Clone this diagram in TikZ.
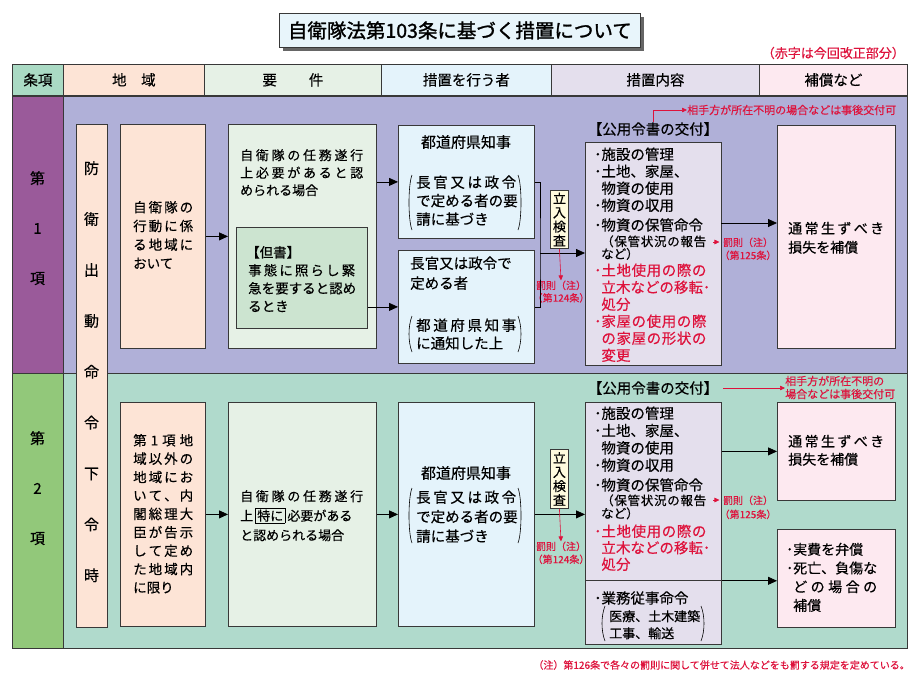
\documentclass[tikz,border=0pt]{standalone}
\usepackage{fontspec}
\setmainfont{Noto Sans CJK JP}[FakeBold=0.35]
\newfontfamily\ttlfont{Noto Sans CJK JP}[FakeBold=1.4]
\usetikzlibrary{arrows.meta}
\definecolor{jred}{RGB}{222,18,60}
\definecolor{hdA}{RGB}{170,218,196}
\definecolor{peach}{RGB}{253,228,214}
\definecolor{ygreen}{RGB}{230,241,230}
\definecolor{lblue}{RGB}{228,243,251}
\definecolor{lav}{RGB}{228,223,237}
\definecolor{pinkc}{RGB}{253,233,240}
\definecolor{sApurple}{RGB}{154,90,154}
\definecolor{sAband}{RGB}{176,176,216}
\definecolor{sBgreen}{RGB}{146,200,122}
\definecolor{sBband}{RGB}{176,218,204}
\definecolor{tgreen}{RGB}{204,228,208}
\definecolor{lyellow}{RGB}{255,251,222}
\definecolor{ttl}{RGB}{232,245,251}
\newcommand\fs[2]{\fontsize{#1}{#2}\selectfont}
\makeatletter
\def\spr@#1#2\spr@end{#1\ifx\relax#2\relax\else\hfill\spr@#2\spr@end\fi}
\newcommand\jl[2]{\makebox[#1pt][l]{\spr@#2\spr@end}}
\makeatother
\newcommand\bxn[7]{\node[box,fill=#6,minimum width={(#4)-(#2)},minimum height={(#5)-(#3)}] (#1) at (#2,#3) {#7};}
\newcommand\prn[4]{%
 \draw[paren] (#1+3,#3) .. controls (#1-1,#3+10) and (#1-1,#4-10) .. (#1+3,#4);
 \draw[paren] (#2-3,#3) .. controls (#2+1,#3+10) and (#2+1,#4-10) .. (#2-3,#4);}
\begin{document}
\begin{tikzpicture}[x=1pt,y=-1pt,
  box/.style={draw=black!78,line width=0.8pt,inner sep=0,anchor=north west},
  txt/.style={inner sep=0,align=left,anchor=north west},
  arr/.style={-{Triangle[length=9pt,width=8pt]},line width=0.8pt},
  rarr/.style={draw=jred,line width=0.6pt,-{Triangle[length=5pt,width=4.5pt]}},
  paren/.style={line width=0.6pt},
  rtxt/.style={txt,text=jred}]
\fill[white] (0,0) rectangle (918,680);
\useasboundingbox (0,0) rectangle (918,680);
% title
\fill[black!60] (283,17) rectangle (644,51);
\bxn{title}{279}{13}{640}{47}{ttl}{\ttlfont\fs{19.5}{20}自衛隊法第103条に基づく措置について}
\node[inner sep=0,anchor=east,text=jred,font={\fs{13}{14}}] (rnote) at (905,53) {（赤字は今回改正部分）};
% header
\bxn{hA}{12}{64}{63}{95}{hdA}{\fs{14.5}{16}条項}
\bxn{hB}{63}{64}{204}{95}{peach}{\fs{14.5}{16}地\hspace{1em}域}
\bxn{hC}{204}{64}{381}{95}{ygreen}{\fs{14.5}{16}要\hspace{2.2em}件}
\bxn{hD}{381}{64}{551}{95}{lblue}{\fs{14.5}{16}措置を行う者}
\bxn{hE}{551}{64}{759}{95}{lav}{\fs{14.5}{16}措置内容}
\bxn{hF}{759}{64}{907}{95}{pinkc}{\fs{14.5}{16}補償など}
% sections
\bxn{s1l}{12}{96}{63}{373}{sApurple}{}
\bxn{s1b}{63}{96}{907}{373}{sAband}{}
\bxn{s2l}{12}{373}{63}{648}{sBgreen}{}
\bxn{s2b}{63}{373}{907}{648}{sBband}{}
\node[inner sep=0,align=center,anchor=north,font={\fs{15}{50}}] (s1lt) at (37.5,171) {第\\1\\項};
\node[inner sep=0,align=center,anchor=north,font={\fs{15}{50}}] (s2lt) at (37.5,431) {第\\2\\項};
% boxes
\bxn{bouei}{76}{124}{107}{627}{peach}{}
\node[inner sep=0,align=center,anchor=north,font={\fs{15}{50.9}}] (boueit) at (91.5,161) {防\\衛\\出\\動\\命\\令\\下\\令\\時};
\bxn{chi1}{120}{124}{205}{348}{peach}{}
\bxn{yo1}{228}{124}{376}{348}{ygreen}{}
\bxn{tad1}{236}{227}{367}{328}{tgreen}{}
\bxn{sha1}{398}{125}{534}{238}{lblue}{}
\bxn{sha2}{398}{250}{534}{363}{lblue}{}
\bxn{nai1}{585}{142}{721}{365}{lav}{}
\bxn{hos1}{777}{125}{895}{348}{pinkc}{}
\bxn{chi2}{120}{402}{205}{626}{peach}{}
\bxn{yo2}{228}{402}{376}{626}{ygreen}{}
\bxn{sha3}{398}{402}{534}{626}{lblue}{}
\bxn{nai2}{585}{402}{721}{580}{lav}{}
\bxn{nai3}{585}{580}{721}{644}{lav}{}
\bxn{hos2}{777}{402}{895}{500}{pinkc}{}
\bxn{hos3}{777}{529}{895}{627}{pinkc}{}
% section 1 texts
\node[txt,font={\fs{13.5}{18.7}}] (chi1t) at (133,200.8) {\jl{60}{自衛隊の}\\\jl{60}{行動に係}\\\jl{60}{る地域に}\\おいて};
\node[txt,font={\fs{13}{17.5}}] (yo1t) at (240,149) {\jl{123}{自衛隊の任務遂行}\\\jl{123}{上必要があると認}\\められる場合};
\node[txt,font={\fs{13.5}{18}}] (tad1t) at (246,245.8) {【但書】\\\hspace*{2pt}\jl{107}{事態に照らし緊}\\\hspace*{2pt}\jl{107}{急を要すると認め}\\\hspace*{2pt}るとき};
\node[inner sep=0,font={\fs{15}{16}}] (sha1h) at (466,142) {都道府県知事};
\node[txt,font={\fs{14.5}{18.5}}] (sha1p) at (416,175.3) {\jl{100}{長官又は政令}\\\jl{100}{で定める者の要}\\請に基づき};
\prn{409}{521}{175}{230}
\node[txt,font={\fs{14.5}{20}}] (sha2t) at (410,256.3) {長官又は政令で\\定める者};
\node[txt,font={\fs{14.5}{18}}] (sha2p) at (416,318.3) {\jl{100}{都道府県知事}\\に通知した上};
\prn{409}{521}{316}{352}
\bxn{tac1}{550}{190}{568}{248}{lyellow}{}
\node[inner sep=0,align=center,font={\fs{13}{14}}] (tac1t) at (tac1.center) {立\\入\\検\\査};
\node[inner sep=0,align=center,anchor=north,text=jred,font={\fs{10}{12.5}}] (bat1) at (561,280.4) {罰則（注）\\（第124条）};
\node[inner sep=0,font={\fs{14.5}{16}}] (kou1) at (653,129) {【公用令書の交付】};
\node[inner sep=0,anchor=west,text=jred,font={\fs{11}{12}}] (note1) at (687,110) {相手方が所在不明の場合などは事後交付可};
\node[txt,font={\fs{14.5}{17}}] (nai1a) at (594,147.3) {･施設の管理\\･土地、家屋、\\\hspace*{7.25pt}物資の使用\\･物資の収用};
\node[inner sep=0,anchor=west,font={\fs{14.5}{17}}] (nai1b) at (594,225) {･物資の保管命令};
\node[txt,font={\fs{12.5}{12.5}}] (nai1c) at (601,235.2) {\jl{105}{（保管状況の報告}\\など）};
\node[rtxt,font={\fs{14.5}{17}}] (nai1d) at (594,263.3) {･\jl{105}{土地使用の際の}\\\hspace*{7.25pt}立木などの移転･\\\hspace*{7.25pt}処分\\･\jl{105}{家屋の使用の際}\\\hspace*{7.25pt}\jl{105}{の家屋の形状の}\\\hspace*{7.25pt}変更};
\node[inner sep=0,align=center,anchor=north,text=jred,font={\fs{10}{13}}] (bat2) at (748,237.4) {罰則（注）\\（第125条）};
\node[txt,font={\fs{14}{19}}] (hos1t) at (788,221.6) {\jl{96}{通常生ずべき}\\損失を補償};
% section 1 connectors
\draw[arr] (chi1.east) -- (yo1.west);
\draw[arr] (yo1.east |- sha1.west) -- (sha1.west);
\draw[arr] (tad1.east |- sha2.west) -- (sha2.west);
\coordinate (j1) at (540,253);
\draw[line width=0.8pt] (sha1.east) -| (j1) |- (sha2.east);
\draw[arr] (j1) -- (j1 -| nai1.west);
\draw[rarr] (tac1.south) -- (bat1.north);
\draw[rarr] (kou1.north) |- (note1.west);
\coordinate (p1) at (713,242);
\draw[rarr] (p1) -- (p1 -| bat2.west);
\coordinate (r1) at (721,223);
\draw[arr] (r1) -- (r1 -| hos1.west);
% section 2 texts
\node[txt,font={\fs{13.5}{18.4}}] (chi2t) at (133,433.8) {\jl{60}{第1項地}\\\jl{60}{域以外の}\\\jl{60}{地域にお}\\\jl{60}{いて、内}\\\jl{60}{閣総理大}\\\jl{60}{臣が告示}\\\jl{60}{して定め}\\\jl{60}{た地域内}\\に限り};
{\setlength\fboxsep{1.5pt}\setlength\fboxrule{0.6pt}
\node[txt,font={\fs{13}{19.5}}] (yo2t) at (240,490) {\jl{123}{自衛隊の任務遂行}\\上\hspace{2pt}\fbox{特に}\hspace{2pt}必要がある\\と認められる場合};}
\node[inner sep=0,font={\fs{15}{16}}] (sha3h) at (466,473) {都道府県知事};
\node[txt,font={\fs{14.5}{19.5}}] (sha3p) at (416,490.3) {\jl{100}{長官又は政令}\\\jl{100}{で定める者の要}\\請に基づき};
\prn{409}{521}{488}{543}
\bxn{tac2}{550}{449}{568}{508}{lyellow}{}
\node[inner sep=0,align=center,font={\fs{13}{14}}] (tac2t) at (tac2.center) {立\\入\\検\\査};
\node[inner sep=0,align=center,anchor=north,text=jred,font={\fs{10}{13}}] (bat3) at (561,541.4) {罰則（注）\\（第124条）};
\node[inner sep=0,font={\fs{14.5}{16}}] (kou2) at (653,388) {【公用令書の交付】};
\node[inner sep=0,anchor=west,align=left,text=jred,font={\fs{11}{13}}] (note2) at (785,387.5) {相手方が所在不明の\\場合などは事後交付可};
\node[txt,font={\fs{14.5}{17.3}}] (nai2a) at (594,406.3) {･施設の管理\\･土地、家屋、\\\hspace*{7.25pt}物資の使用\\･物資の収用};
\node[inner sep=0,anchor=west,font={\fs{14.5}{17}}] (nai2b) at (594,485) {･物資の保管命令};
\node[txt,font={\fs{12.5}{13}}] (nai2c) at (601,494.2) {\jl{105}{（保管状況の報告}\\など）};
\node[rtxt,font={\fs{14.5}{16.5}}] (nai2d) at (594,524.3) {･\jl{105}{土地使用の際の}\\\hspace*{7.25pt}立木などの移転･\\\hspace*{7.25pt}処分};
\node[inner sep=0,anchor=west,font={\fs{14.5}{17}}] (nai3a) at (594,598) {･業務従事命令};
\node[txt,font={\fs{13}{17}}] (nai3p) at (609,610) {医療、土木建築\\工事、輸送};
\prn{602}{704}{606}{641}
\node[inner sep=0,align=center,anchor=north,text=jred,font={\fs{10}{14}}] (bat4) at (748,495.4) {罰則（注）\\（第125条）};
\node[txt,font={\fs{14}{18}}] (hos2t) at (788,434.6) {\jl{96}{通常生ずべき}\\損失を補償};
\node[txt,font={\fs{14}{18.7}}] (hos3t) at (786,542.6) {･実費を弁償\\･死亡、負傷な\\\hspace*{7pt}\jl{84}{どの場合の}\\\hspace*{7pt}補償};
% section 2 connectors
\draw[arr] (chi2.east) -- (yo2.west);
\draw[arr] (yo2.east) -- (sha3.west);
\draw[arr] (sha3.east) -- (sha3.east -| nai2.west);
\draw[rarr] (tac2.south) -- (bat3.north);
\draw[rarr] ([xshift=5pt]kou2.east) -- (kou2.east -| note2.west);
\coordinate (p2) at (713,500);
\draw[rarr] (p2) -- (p2 -| bat4.west);
\draw[arr] (nai2.east |- hos2.west) -- (hos2.west);
\draw[arr] (nai2.south east) -- (nai2.south east -| hos3.west);
% footnote
\node[inner sep=0,anchor=east,text=jred,font={\fs{10}{12}}] (foot) at (910,665) {（注）第126条で各々の罰則に関して併せて法人などをも罰する規定を定めている。};
\end{tikzpicture}
\end{document}
